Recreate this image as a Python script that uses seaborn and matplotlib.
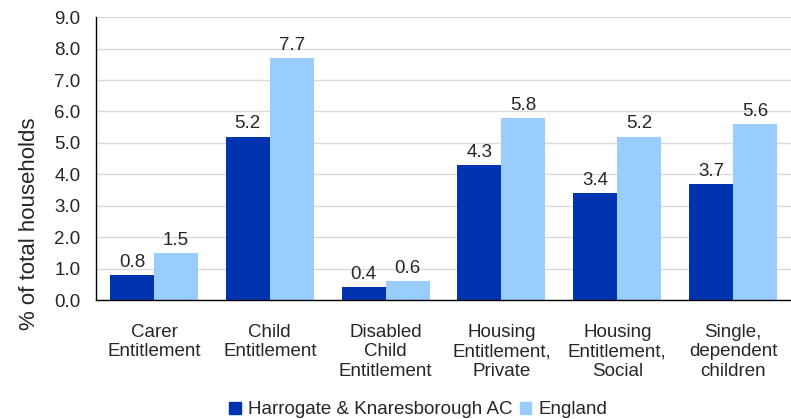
import matplotlib.pyplot as plt
import seaborn as sns
import pandas as pd

categories = ['Carer\nEntitlement', 'Child\nEntitlement', 'Disabled\nChild\nEntitlement',
              'Housing\nEntitlement,\nPrivate', 'Housing\nEntitlement,\nSocial', 'Single,\ndependent\nchildren']
harrogate = [0.8, 5.2, 0.4, 4.3, 3.4, 3.7]
england = [1.5, 7.7, 0.6, 5.8, 5.2, 5.6]
series = ['Harrogate & Knaresborough AC', 'England']

df = pd.DataFrame({
    'category': categories * 2,
    'value': harrogate + england,
    'area': [series[0]] * len(categories) + [series[1]] * len(categories),
})

sns.set_style('white')
plt.rcParams['font.family'] = ['Liberation Sans', 'DejaVu Sans']
plt.rcParams['font.size'] = 13.5

fig = plt.figure(figsize=(7.91, 4.19), dpi=100)
ax = fig.add_axes([0.1214, 0.284, 0.8786, 0.675])

sns.barplot(data=df, x='category', y='value', hue='area', order=categories,
            hue_order=series, palette=['#0033B0', '#99CCFF'], width=0.76,
            saturation=1, linewidth=0, ax=ax, legend=False)

for cont in ax.containers:
    ax.bar_label(cont, fmt='%.1f', padding=3, fontsize=13.5)

ax.set_ylim(0, 9)
ax.set_yticks([i for i in range(10)])
ax.set_yticklabels([f'{i:.1f}' for i in range(10)])
ax.yaxis.grid(True, color='#d9d9d9', linewidth=1)
ax.set_axisbelow(True)
ax.set_xlim(-0.5, 5.5)
ax.set_xlabel('')
ax.set_ylabel('% of total households', fontsize=16)
ax.yaxis.set_label_coords(-0.08, 0.27)
for s in ['top', 'right']:
    ax.spines[s].set_visible(False)
for s in ['left', 'bottom']:
    ax.spines[s].set_color('black')
    ax.spines[s].set_linewidth(1)
ax.tick_params(axis='x', length=0, pad=17, labelsize=13.5)
ax.tick_params(axis='y', length=0, pad=11, labelsize=13.5)

handles = [plt.Rectangle((0, 0), 1, 1, color=c) for c in ['#0033B0', '#99CCFF']]
fig.legend(handles, series, loc='center', bbox_to_anchor=(0.529, 0.022), ncol=2,
           frameon=False, handlelength=0.6, handleheight=0.6, handletextpad=0.4,
           columnspacing=0.4, fontsize=13.5, borderpad=0)

fig.savefig('out.png', dpi=100)
